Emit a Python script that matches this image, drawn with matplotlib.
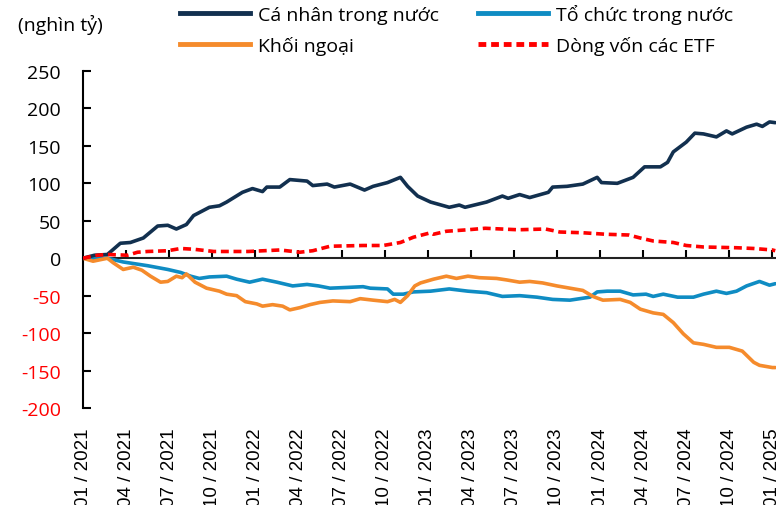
import matplotlib.pyplot as plt
from matplotlib.lines import Line2D

# x in months since 01/2021, values in nghìn tỷ
ca_nhan_x = [0, 0.8, 1.7, 2.6, 3.3, 4.2, 5.2, 5.9, 6.5, 7.2, 7.7, 8.8, 9.5, 10.0, 11.1, 11.8,
             12.5, 12.8, 13.7, 14.4, 15.6, 16.0, 17.0, 17.5, 18.6, 19.6, 20.2, 21.2, 22.1, 22.6,
             23.3, 24.2, 25.5, 26.2, 26.6, 28.1, 29.2, 29.6, 30.4, 31.1, 32.4, 32.7, 33.7, 34.8,
             35.8, 36.1, 37.2, 38.3, 39.1, 40.2, 40.7, 41.1, 42.0, 42.6, 43.2, 44.1, 44.8, 45.2,
             46.2, 46.9, 47.3, 47.8, 48.2]
ca_nhan = [0, 4, 5, 20, 21, 27, 43, 44, 39, 45, 57, 68, 70, 75, 88, 93,
           89, 95, 95, 105, 103, 97, 99, 95, 99, 91, 96, 101, 108, 96,
           83, 75, 68, 71, 68, 75, 83, 80, 85, 81, 88, 95, 96, 99,
           108, 101, 100, 108, 122, 122, 128, 142, 155, 167, 166, 162, 170, 166,
           175, 179, 176, 182, 181]

to_chuc_x = [0, 1.7, 2.8, 4.5, 5.9, 6.8, 7.5, 8.1, 8.8, 10.0, 10.7, 11.6, 12.5, 13.5, 14.6,
             15.6, 16.4, 17.2, 18.4, 19.5, 20.0, 21.2, 21.6, 22.3, 23.0, 24.2, 25.5, 26.8,
             28.1, 29.2, 30.4, 31.6, 32.7, 33.9, 35.3, 35.8, 36.5, 37.4, 38.3, 39.2, 39.7,
             40.4, 41.4, 42.5, 43.2, 44.1, 44.8, 45.5, 46.2, 47.1, 47.8, 48.2]
to_chuc = [0, 0, -5, -10, -15, -19, -24, -27, -25, -24, -28, -32, -28, -32, -37,
           -35, -37, -40, -39, -38, -40, -41, -48, -48, -45, -44, -41, -44,
           -46, -51, -50, -52, -55, -56, -52, -45, -44, -44, -49, -48, -51,
           -48, -52, -52, -48, -44, -47, -44, -37, -31, -36, -34]

khoi_ngoai_x = [0, 0.7, 1.7, 2.1, 2.8, 3.5, 4.1, 4.7, 5.4, 5.9, 6.5, 6.9, 7.2, 7.8, 8.6,
                9.5, 10.0, 10.7, 11.3, 12.1, 12.5, 13.2, 13.9, 14.4, 15.1, 15.8, 16.5, 17.4,
                18.6, 19.3, 20.2, 21.2, 21.7, 22.1, 22.6, 23.1, 23.5, 24.4, 25.3, 26.0,
                26.8, 27.6, 28.8, 29.5, 30.4, 31.1, 32.0, 33.0, 33.9, 34.8, 35.5, 36.2,
                37.4, 38.1, 38.8, 39.7, 40.4, 41.1, 41.8, 42.5, 43.2, 44.1, 45.0, 45.9,
                46.7, 47.1, 48.0, 48.2]
khoi_ngoai = [0, -4, 0, -6, -15, -12, -16, -24, -32, -31, -24, -26, -21, -32, -40,
              -44, -48, -50, -58, -61, -64, -62, -64, -69, -66, -62, -59, -57,
              -58, -54, -56, -58, -55, -59, -50, -37, -33, -28, -24, -27,
              -24, -26, -27, -29, -32, -31, -33, -37, -40, -43, -51, -56,
              -55, -59, -68, -73, -75, -86, -101, -113, -115, -119, -119, -124,
              -139, -143, -146, -146]

etf_x = [0, 1.0, 1.7, 3.1, 3.8, 4.5, 5.9, 6.8, 7.7, 9.1, 11.5, 13.7, 15.1, 16.0, 17.2,
         19.5, 20.9, 22.1, 23.0, 24.2, 24.4, 25.3, 26.8, 28.0, 30.3, 32.2, 33.2, 34.8,
         36.4, 38.0, 38.8, 39.7, 41.1, 42.0, 43.2, 45.5, 46.7, 48.0, 48.2]
etf = [0, 4, 5, 4, 8, 9, 10, 13, 12, 9, 9, 11, 8, 10, 16,
       17, 17, 21, 28, 34, 32, 36, 38, 40, 38, 39, 35, 34,
       32, 31, 27, 23, 21, 17, 15, 14, 13, 11, 10]

tick_months = list(range(0, 49, 3))
tick_labels = ['01 / 2021', '04 / 2021', '07 / 2021', '10 / 2021',
               '01 / 2022', '04 / 2022', '07 / 2022', '10 / 2022',
               '01 / 2023', '04 / 2023', '07 / 2023', '10 / 2023',
               '01 / 2024', '04 / 2024', '07 / 2024', '10 / 2024', '01 / 2025']
y_ticks = [250, 200, 150, 100, 50, 0, -50, -100, -150, -200]

navy = '#12304f'
blue = '#0f8cc3'
orange = '#f58b2c'
red = '#ff0000'
lw = 2.6

fig = plt.figure(figsize=(7.76, 5.06), dpi=100)
ax = fig.add_axes([83 / 776, 97 / 506, 693 / 776, 337 / 506])

ax.plot(ca_nhan_x, ca_nhan, color=navy, lw=lw, solid_capstyle='round', zorder=4)
ax.plot(to_chuc_x, to_chuc, color=blue, lw=lw, solid_capstyle='round', zorder=3)
ax.plot(khoi_ngoai_x, khoi_ngoai, color=orange, lw=lw, solid_capstyle='round', zorder=3)
ax.plot(etf_x, etf, color=red, lw=lw, dashes=(2.2, 1.3), zorder=4)

ax.set_xlim(0, 48.25)
ax.set_ylim(-200, 250)

for s in ['top', 'right', 'bottom']:
    ax.spines[s].set_visible(False)
ax.spines['left'].set_linewidth(1.5)

ax.set_yticks(y_ticks)
ax.set_yticklabels([str(v) for v in y_ticks], fontfamily='Open Sans', fontsize=14)
for lab, v in zip(ax.get_yticklabels(), y_ticks):
    lab.set_color(red if v < 0 else 'black')
ax.tick_params(axis='y', direction='in', length=6, width=1.5, pad=16)

ax.set_xticks(tick_months)
ax.set_xticklabels(tick_labels, rotation=90, fontfamily='Liberation Sans', fontsize=13.5,
                   va='top', ha='center')
ax.tick_params(axis='x', length=0, pad=14)

# zero line with inward ticks
zero = ax.secondary_xaxis(200 / 450)
zero.set_xticks(tick_months[1:])
zero.tick_params(direction='in', length=6, width=1.5, labelbottom=False, labeltop=False)
zero.spines['bottom'].set_linewidth(1.5)
zero.spines['bottom'].set_color('#222222')

fig.text(18 / 776, 1 - 25 / 506, '(nghìn tỷ)', fontfamily='Open Sans', fontsize=14,
         va='center', ha='left')

handles = [Line2D([], [], color=navy, lw=3.5),
           Line2D([], [], color=orange, lw=3.5),
           Line2D([], [], color=blue, lw=3.5),
           Line2D([], [], color=red, lw=3.5, dashes=(1.6, 1.0))]
labels = ['Cá nhân trong nước', 'Khối ngoại', 'Tổ chức trong nước', 'Dòng vốn các ETF']
fig.legend(handles, labels, ncol=2, loc='upper left', bbox_to_anchor=(172 / 776, 1.005),
           frameon=False, prop={'family': 'Open Sans', 'size': 14},
           handlelength=3.6, handletextpad=0.4, columnspacing=2.05, labelspacing=0.6,
           borderaxespad=0)

fig.savefig('out.png', dpi=100)
